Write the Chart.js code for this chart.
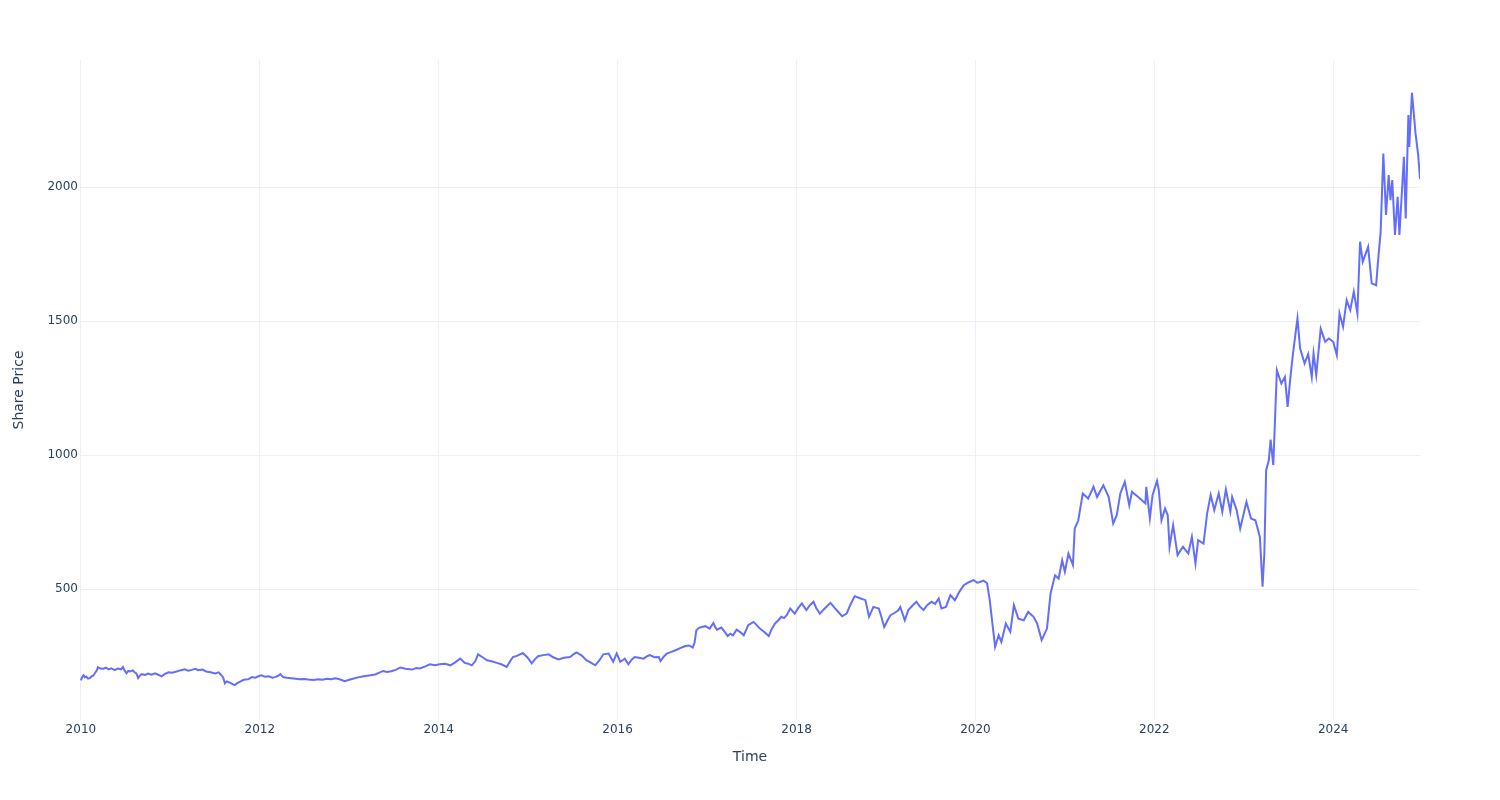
<!DOCTYPE html>
<html>
<head>
<meta charset="utf-8">
<title>Share Price</title>
<script src="https://cdn.jsdelivr.net/npm/chart.js@4.4.1/dist/chart.umd.min.js"></script>
<style>
	html, body { margin: 0; padding: 0; background: #fff; }
	#wrap { width: 1500px; height: 800px; }
</style>
</head>
<body>
<div id="wrap"><canvas id="priceChart" width="1500" height="800"></canvas></div>
<script>
// dates as decimal years, prices (10 per row)
const dates = [
	2010.00, 2010.015, 2010.03, 2010.045, 2010.06, 2010.08, 2010.10, 2010.12, 2010.14, 2010.16,
	2010.18, 2010.19, 2010.22, 2010.25, 2010.28, 2010.31, 2010.34, 2010.38, 2010.41, 2010.45,
	2010.47, 2010.49, 2010.51, 2010.53, 2010.55, 2010.58, 2010.60, 2010.62, 2010.64, 2010.66,
	2010.68, 2010.72, 2010.75, 2010.79, 2010.83, 2010.87, 2010.90, 2010.94, 2010.98, 2011.02,
	2011.07, 2011.11, 2011.16, 2011.20, 2011.24, 2011.28, 2011.31, 2011.36, 2011.40, 2011.45,
	2011.50, 2011.54, 2011.57, 2011.59, 2011.61, 2011.63, 2011.66, 2011.69, 2011.72, 2011.75,
	2011.78, 2011.82, 2011.87, 2011.91, 2011.95, 2011.99, 2012.02, 2012.06, 2012.10, 2012.14,
	2012.17, 2012.20, 2012.23, 2012.26, 2012.30, 2012.35, 2012.40, 2012.45, 2012.50, 2012.54,
	2012.60, 2012.65, 2012.70, 2012.75, 2012.80, 2012.84, 2012.87, 2012.90, 2012.95, 2013.00,
	2013.05, 2013.10, 2013.16, 2013.22, 2013.29, 2013.33, 2013.38, 2013.42, 2013.47, 2013.52,
	2013.57, 2013.63, 2013.70, 2013.75, 2013.79, 2013.85, 2013.90, 2013.96, 2014.01, 2014.07,
	2014.13, 2014.18, 2014.24, 2014.27, 2014.29, 2014.33, 2014.37, 2014.41, 2014.44, 2014.49,
	2014.54, 2014.60, 2014.65, 2014.70, 2014.76, 2014.80, 2014.83, 2014.88, 2014.94, 2014.99,
	2015.04, 2015.08, 2015.11, 2015.17, 2015.23, 2015.28, 2015.34, 2015.40, 2015.47, 2015.51,
	2015.54, 2015.60, 2015.65, 2015.70, 2015.75, 2015.80, 2015.84, 2015.90, 2015.95, 2015.99,
	2016.03, 2016.06, 2016.08, 2016.12, 2016.16, 2016.19, 2016.24, 2016.29, 2016.33, 2016.36,
	2016.41, 2016.46, 2016.48, 2016.52, 2016.55, 2016.60, 2016.66, 2016.70, 2016.75, 2016.80,
	2016.84, 2016.86, 2016.88, 2016.91, 2016.94, 2016.98, 2017.03, 2017.07, 2017.09, 2017.11,
	2017.16, 2017.20, 2017.23, 2017.26, 2017.29, 2017.33, 2017.37, 2017.41, 2017.44, 2017.46,
	2017.52, 2017.55, 2017.59, 2017.64, 2017.69, 2017.72, 2017.76, 2017.80, 2017.83, 2017.86,
	2017.89, 2017.93, 2017.98, 2018.02, 2018.06, 2018.11, 2018.15, 2018.19, 2018.22, 2018.26,
	2018.32, 2018.38, 2018.44, 2018.51, 2018.56, 2018.60, 2018.65, 2018.71, 2018.77, 2018.79,
	2018.81, 2018.86, 2018.92, 2018.95, 2018.98, 2019.02, 2019.05, 2019.10, 2019.14, 2019.16,
	2019.21, 2019.25, 2019.30, 2019.34, 2019.38, 2019.42, 2019.46, 2019.51, 2019.55, 2019.59,
	2019.62, 2019.67, 2019.72, 2019.77, 2019.82, 2019.87, 2019.92, 2019.98, 2020.02, 2020.05,
	2020.09, 2020.13, 2020.16, 2020.22, 2020.26, 2020.29, 2020.34, 2020.39, 2020.43, 2020.48,
	2020.54, 2020.59, 2020.65, 2020.69, 2020.74, 2020.80, 2020.84, 2020.89, 2020.93, 2020.97,
	2021.00, 2021.04, 2021.09, 2021.11, 2021.15, 2021.20, 2021.26, 2021.32, 2021.36, 2021.43,
	2021.49, 2021.54, 2021.58, 2021.62, 2021.67, 2021.72, 2021.75, 2021.82, 2021.90, 2021.91,
	2021.95, 2021.98, 2022.03, 2022.05, 2022.08, 2022.12, 2022.15, 2022.17, 2022.21, 2022.26,
	2022.32, 2022.38, 2022.42, 2022.46, 2022.49, 2022.55, 2022.59, 2022.63, 2022.67, 2022.72,
	2022.76, 2022.80, 2022.85, 2022.87, 2022.92, 2022.96, 2023.03, 2023.08, 2023.13, 2023.18,
	2023.21, 2023.23, 2023.25, 2023.28, 2023.30, 2023.33, 2023.37, 2023.42, 2023.46, 2023.49,
	2023.52, 2023.55, 2023.60, 2023.63, 2023.68, 2023.72, 2023.76, 2023.78, 2023.81, 2023.86,
	2023.91, 2023.95, 2024.00, 2024.04, 2024.07, 2024.11, 2024.15, 2024.19, 2024.23, 2024.27,
	2024.30, 2024.33, 2024.39, 2024.43, 2024.48, 2024.50, 2024.53, 2024.56, 2024.59, 2024.62,
	2024.64, 2024.66, 2024.69, 2024.72, 2024.74, 2024.79, 2024.81, 2024.84, 2024.85, 2024.88,
	2024.92, 2024.95, 2024.97
]
const prices = [
	160, 172, 179, 171, 174, 166, 168, 175, 178, 188,
	198, 209, 204, 203, 207, 201, 205, 198, 204, 201,
	210, 196, 186, 195, 193, 197, 190, 186, 168, 178,
	183, 180, 185, 181, 186, 180, 175, 184, 190, 188,
	193, 197, 201, 196, 199, 203, 198, 200, 193, 190,
	186, 190, 179, 171, 149, 156, 152, 147, 142, 150,
	155, 162, 164, 172, 170, 176, 179, 173, 175, 170,
	172, 176, 183, 172, 170, 168, 166, 164, 165, 163,
	161, 164, 162, 166, 164, 168, 166, 163, 157, 162,
	167, 171, 175, 178, 182, 188, 195, 191, 194, 199,
	208, 203, 200, 206, 204, 212, 220, 216, 220, 222,
	216, 226, 241, 232, 225, 222, 216, 232, 257, 246,
	235, 230, 225, 220, 210, 232, 247, 252, 262, 246,
	223, 240, 250, 254, 257, 246, 238, 244, 247, 258,
	264, 252, 235, 226, 216, 236, 257, 260, 229, 260,
	229, 236, 241, 220, 238, 247, 244, 241, 250, 254,
	246, 247, 232, 250, 260, 266, 274, 280, 287, 290,
	282, 300, 347, 356, 359, 362, 353, 374, 360, 349,
	357, 340, 325, 334, 328, 349, 340, 328, 350, 366,
	378, 368, 353, 340, 325, 350, 372, 385, 397, 392,
	403, 428, 409, 430, 447, 422, 440, 453, 430, 409,
	430, 449, 425, 399, 409, 440, 474, 466, 459, 430,
	397, 434, 428, 395, 359, 385, 403, 412, 422, 434,
	384, 422, 440, 453, 435, 422, 440, 453, 445, 465,
	428, 434, 478, 459, 490, 515, 525, 534, 524, 527,
	532, 523, 459, 285, 328, 303, 372, 341, 440, 390,
	384, 415, 397, 372, 310, 353, 484, 552, 540, 608,
	565, 633, 590, 726, 757, 857, 838, 882, 844, 888,
	844, 745, 776, 857, 900, 813, 863, 844, 820, 882,
	764, 851, 904, 869, 757, 801, 776, 658, 739, 627,
	658, 633, 695, 595, 683, 670, 782, 851, 795, 857,
	789, 872, 789, 844, 795, 726, 826, 764, 757, 695,
	509, 633, 944, 981, 1058, 963, 1317, 1267, 1292, 1180,
	1286, 1379, 1510, 1398, 1342, 1377, 1292, 1379, 1299, 1472,
	1423, 1435, 1423, 1373, 1529, 1479, 1578, 1541, 1610, 1529,
	1796, 1721, 1777, 1641, 1634, 1721, 1833, 2125, 1896, 2045,
	1951, 2026, 1821, 1964, 1821, 2113, 1883, 2269, 2150, 2352,
	2200, 2119, 2030
]
const xTicks = [2010, 2012, 2014, 2016, 2018, 2020, 2022, 2024]
const yTicks = [500, 1000, 1500, 2000]

const ink = "#2a3f5f"
const gridColor = "#ebf0f8"

const points = dates.map((d, i) => ({ x: d, y: prices[i] }))

const ctx = document.getElementById("priceChart").getContext("2d")
new Chart(ctx, {
	type: "line",
	data: {
		datasets: [
			{
				label: "Share Price",
				data: points,
				borderColor: "#636efa",
				borderWidth: 2,
				pointRadius: 0,
				tension: 0,
				fill: false,
			},
		],
	},
	options: {
		responsive: false,
		animation: false,
		devicePixelRatio: 1,
		layout: { padding: { left: 0, right: 80, top: 60, bottom: 0 } },
		plugins: { legend: { display: false }, tooltip: { enabled: false } },
		scales: {
			x: {
				type: "linear",
				min: 2009.99,
				max: 2024.97,
				afterBuildTicks: (scale) => {
					scale.ticks = xTicks.map((v) => ({ value: v }))
				},
				afterFit: (scale) => {
					scale.height = 80
				},
				grid: { color: gridColor, drawTicks: false },
				border: { display: false },
				ticks: {
					color: ink,
					padding: 3,
					maxRotation: 0,
					font: { family: "DejaVu Sans", size: 12 },
					callback: (v) => String(v),
				},
				title: {
					display: true,
					text: "Time",
					color: ink,
					font: { family: "DejaVu Sans", size: 14 },
					padding: { top: 0, bottom: 34 },
				},
			},
			y: {
				type: "linear",
				min: 12,
				max: 2474,
				afterBuildTicks: (scale) => {
					scale.ticks = yTicks.map((v) => ({ value: v }))
				},
				afterFit: (scale) => {
					scale.width = 80
				},
				grid: { color: gridColor, drawTicks: false },
				border: { display: false },
				ticks: {
					color: ink,
					padding: 2,
					font: { family: "DejaVu Sans", size: 12 },
					callback: (v) => String(v),
				},
				title: {
					display: true,
					text: "Share Price",
					color: ink,
					font: { family: "DejaVu Sans", size: 14 },
					padding: { top: 11, bottom: 0 },
				},
			},
		},
	},
})
</script>
</body>
</html>
